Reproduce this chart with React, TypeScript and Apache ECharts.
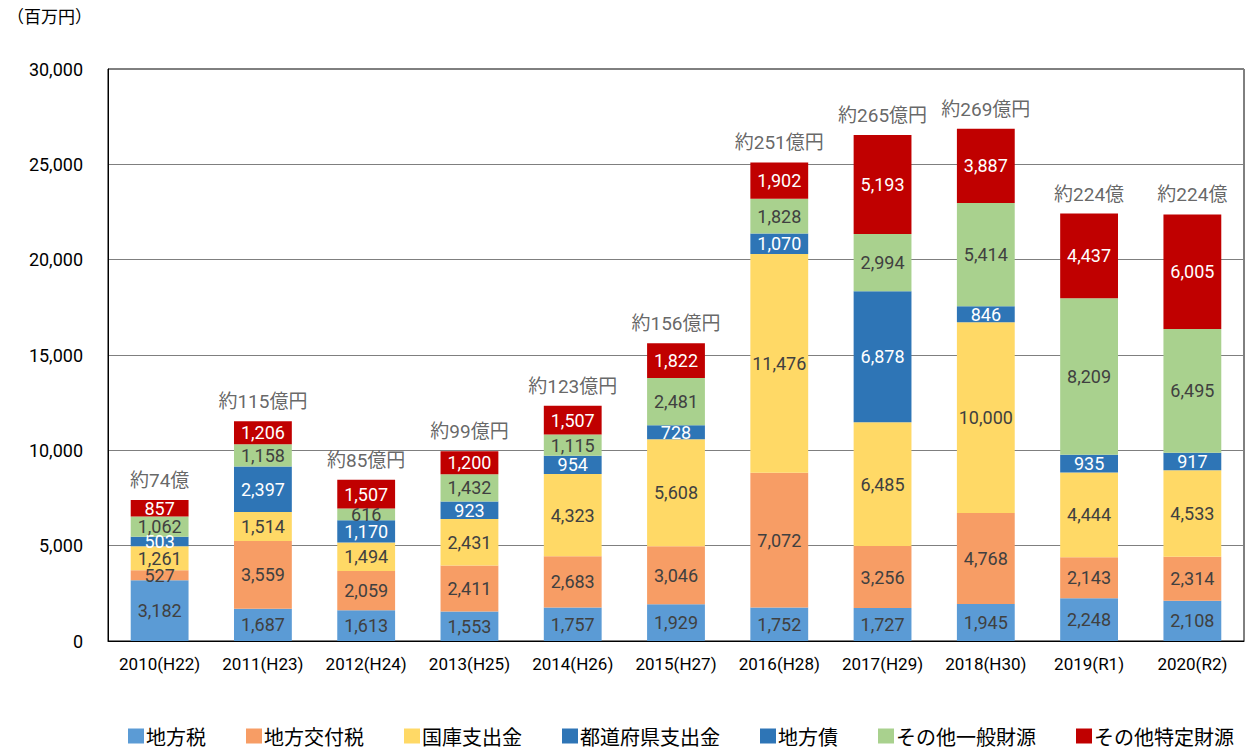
import React, { useEffect, useRef } from "react";
import * as echarts from "echarts";

const categories = ["2010(H22)", "2011(H23)", "2012(H24)", "2013(H25)", "2014(H26)", "2015(H27)", "2016(H28)", "2017(H29)", "2018(H30)", "2019(R1)", "2020(R2)"];
const chihouzei = [3182, 1687, 1613, 1553, 1757, 1929, 1752, 1727, 1945, 2248, 2108];
const koufuzei = [527, 3559, 2059, 2411, 2683, 3046, 7072, 3256, 4768, 2143, 2314];
const kokko = [1261, 1514, 1494, 2431, 4323, 5608, 11476, 6485, 10000, 4444, 4533];
const todoufuken: (number | null)[] = [null, null, null, null, null, null, null, null, null, null, null];
const chihousai = [503, 2397, 1170, 923, 954, 728, 1070, 6878, 846, 935, 917];
const ippan = [1062, 1158, 616, 1432, 1115, 2481, 1828, 2994, 5414, 8209, 6495];
const tokutei = [857, 1206, 1507, 1200, 1507, 1822, 1902, 5193, 3887, 4437, 6005];
const totalLabels = ["約74億", "約115億円", "約85億円", "約99億円", "約123億円", "約156億円", "約251億円", "約265億円", "約269億円", "約224億", "約224億"];
const yTicks = [0, 5000, 10000, 15000, 20000, 25000, 30000];

const FONT = "Roboto, 'Noto Sans CJK JP', sans-serif";
const JP = "'Noto Sans CJK JP', sans-serif";

export default function App() {
  const ref = useRef<HTMLDivElement>(null);
  useEffect(() => {
    document.body.style.margin = "0";
    const chart = echarts.init(ref.current!, null, { renderer: "svg" });
    const fmt = (p: any) => (p.value == null ? "" : Number(p.value).toLocaleString("en-US"));
    const mk = (name: string, data: any[], color: string, labelColor: string) => ({
      name,
      type: "bar",
      stack: "total",
      data,
      barWidth: "56%",
      itemStyle: { color },
      label: { show: true, position: "inside", color: labelColor, fontSize: 18, lineHeight: 14, fontFamily: FONT, formatter: fmt },
      emphasis: { disabled: true },
    });
    const totals = categories.map((_, i) => chihouzei[i] + koufuzei[i] + kokko[i] + chihousai[i] + ippan[i] + tokutei[i]);
    chart.setOption({
      animation: false,
      textStyle: { fontFamily: FONT },
      grid: { left: 108, right: 3, top: 69, bottom: 112, show: true, borderColor: "#000", borderWidth: 1 },
      graphic: [
        { type: "text", left: 7, top: 7, style: { text: "（百万円）", font: `17px ${JP}`, fill: "#000" } },
      ],
      legend: {
        bottom: 2,
        left: 123,
        itemWidth: 16,
        itemHeight: 15,
        itemGap: 40,
        icon: "rect",
        textStyle: { fontSize: 20, fontFamily: JP, color: "#000", padding: [0, 0, 0, -3] },
        data: ["地方税", "地方交付税", "国庫支出金", "都道府県支出金", "地方債", "その他一般財源", "その他特定財源"],
      },
      xAxis: {
        type: "category",
        data: categories,
        axisLine: { show: true, lineStyle: { color: "#000" } },
        axisTick: { show: false },
        axisLabel: { color: "#000", fontSize: 17, margin: 14, fontFamily: FONT, interval: 0, hideOverlap: false },
      },
      yAxis: {
        type: "value",
        min: yTicks[0],
        max: yTicks[yTicks.length - 1],
        interval: 5000,
        axisLine: { show: true, lineStyle: { color: "#000" } },
        axisTick: { show: false },
        splitLine: { lineStyle: { color: "#7f7f7f" } },
        axisLabel: { color: "#000", fontSize: 18, margin: 25, fontFamily: FONT, formatter: (v: number) => v.toLocaleString("en-US") },
      },
      series: [
        mk("地方税", chihouzei, "#5B9BD5", "#404040"),
        mk("地方交付税", koufuzei, "#F79D65", "#404040"),
        mk("国庫支出金", kokko, "#FFD966", "#404040"),
        mk("都道府県支出金", todoufuken, "#2E75B6", "#fff"),
        mk("地方債", chihousai, "#2E75B6", "#fff"),
        mk("その他一般財源", ippan, "#A9D18E", "#404040"),
        mk("その他特定財源", tokutei, "#C00000", "#fff"),
        {
          name: "total",
          type: "scatter",
          data: totals,
          symbolSize: 0,
          silent: true,
          label: {
            show: true,
            position: "top",
            distance: 10,
            color: "#404040",
            fontSize: 19,
            fontFamily: FONT,
            formatter: (p: any) => totalLabels[p.dataIndex],
          },
        },
      ],
    });
    return () => chart.dispose();
  }, []);
  return <div ref={ref} style={{ position: "absolute", left: 0, top: 0, width: 1247, height: 753 }} />;
}
